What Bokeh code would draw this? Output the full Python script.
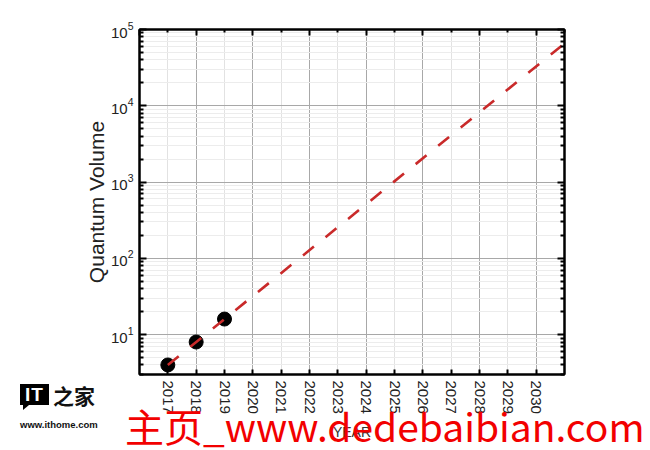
from bokeh.plotting import figure
from bokeh.layouts import column
from bokeh.models import (FixedTicker, LinearAxis, LogAxis, Range1d, Div,
                          CustomJSTickFormatter)
from bokeh.embed import file_html
from bokeh.resources import INLINE

# ---- data ----
years = [2017, 2018, 2019]
quantum_volume = [4, 8, 16]
trend_years = [2017, 2031]
trend_volume = [4, 65536]
x_tick_years = [2017, 2018, 2019, 2020, 2021, 2022, 2023, 2024,
                2025, 2026, 2027, 2028, 2029, 2030]
x_even_years = [2016, 2018, 2020, 2022, 2024, 2026, 2028, 2030]
x_odd_years = [2017, 2019, 2021, 2023, 2025, 2027, 2029, 2031]
y_decades = [1, 10, 100, 1000, 10000, 100000]
y_minor = [m * d for d in [1, 10, 100, 1000, 10000] for m in range(2, 10)]
watermark_text = "主页_www.dedebaibian.com"
logo_text = "IT"
logo_cjk = "之家"
logo_url = "www.ithome.com"

FONT = "Liberation Sans"

p = figure(width=650, height=450,
           x_range=Range1d(2016, 2031), y_range=Range1d(3, 1e5),
           y_axis_type="log",
           output_backend="svg", toolbar_location=None,
           min_border_left=139, min_border_right=86,
           min_border_top=29, min_border_bottom=76,
           x_axis_label="YEAR", y_axis_label="Quantum Volume")
p.background_fill_color = "white"
p.border_fill_color = "white"
p.outline_line_color = "black"
p.outline_line_width = 2

# grids
p.xgrid.ticker = FixedTicker(ticks=x_even_years, minor_ticks=x_odd_years)
p.xgrid.grid_line_color = "#a8a8a8"
p.xgrid.grid_line_width = 1
p.xgrid.minor_grid_line_color = "#e2e2e2"
p.ygrid.ticker = FixedTicker(ticks=y_decades, minor_ticks=y_minor)
p.ygrid.grid_line_color = "#a8a8a8"
p.ygrid.grid_line_width = 1
p.ygrid.minor_grid_line_color = "#ececec"

# bottom axis
xa = p.xaxis[0]
xa.ticker = FixedTicker(ticks=x_tick_years)
xa.major_label_orientation = "vertical"
xa.major_tick_in = 5
xa.major_tick_out = 0
xa.minor_tick_in = 0
xa.minor_tick_out = 0
xa.major_tick_line_width = 2
xa.axis_line_width = 2
xa.axis_line_color = "black"
xa.major_label_text_font = FONT
xa.major_label_text_font_size = "15px"
xa.major_label_text_color = "#222222"
xa.major_label_standoff = 6
xa.axis_label_text_font = FONT
xa.axis_label_text_font_size = "14px"
xa.axis_label_text_font_style = "normal"
xa.axis_label_text_color = "#333333"
xa.axis_label_standoff = 7

# left axis
ya = p.yaxis[0]
ya.ticker = FixedTicker(ticks=y_decades, minor_ticks=y_minor)
ya.major_tick_in = 7
ya.major_tick_out = 0
ya.minor_tick_in = 4
ya.minor_tick_out = 0
ya.major_tick_line_width = 2
ya.minor_tick_line_width = 2
ya.axis_line_width = 2
ya.axis_line_color = "black"
ya.major_label_text_font = FONT
ya.major_label_text_font_size = "15px"
ya.major_label_text_color = "#222222"
ya.major_label_standoff = 6
ya.axis_label_text_font = FONT
ya.axis_label_text_font_size = "21px"
ya.axis_label_text_font_style = "normal"
ya.axis_label_text_color = "#222222"
ya.axis_label_standoff = 0

empty = CustomJSTickFormatter(code="return ''")

# mirrored top axis
top = LinearAxis(ticker=FixedTicker(ticks=x_even_years, minor_ticks=x_odd_years),
                 formatter=empty, major_label_text_font_size="0px",
                 major_label_standoff=0, major_tick_in=6, major_tick_out=0,
                 minor_tick_in=3, minor_tick_out=0,
                 major_tick_line_width=2, minor_tick_line_width=2,
                 axis_line_width=2, axis_line_color="black")
p.add_layout(top, "above")

# mirrored right axis
right = LogAxis(ticker=FixedTicker(ticks=y_decades, minor_ticks=y_minor),
                formatter=empty, major_label_text_font_size="0px",
                major_label_standoff=0, major_tick_in=7, major_tick_out=0,
                minor_tick_in=4, minor_tick_out=0,
                major_tick_line_width=2, minor_tick_line_width=2,
                axis_line_width=2, axis_line_color="black")
p.add_layout(right, "right")

# data
p.scatter(years, quantum_volume, size=14, color="black")
p.line(trend_years, trend_volume, line_color="#c92a2a", line_width=2.6,
       line_dash="14 15")

# watermark overlay (bottom 80px of the page)
html = f"""
<div style="position:relative;width:650px;height:80px;pointer-events:none;overflow:visible;">
  <div style="position:absolute;left:125px;top:32px;width:522px;height:47px;
       white-space:nowrap;overflow:visible;
       font-family:'Noto Sans CJK SC';font-size:39px;line-height:47px;
       color:#f20000;">{watermark_text}</div>
  <div style="position:absolute;left:20px;top:14px;width:29px;height:21px;
       background:black;color:white;font-family:'Liberation Sans';
       font-weight:bold;font-size:19px;line-height:21px;text-align:center;
       letter-spacing:1px;">{logo_text}</div>
  <div style="position:absolute;left:23px;top:35px;width:0;height:0;
       border-left:6px solid black;border-bottom:5px solid transparent;"></div>
  <div style="position:absolute;left:53px;top:13px;white-space:nowrap;
       font-family:'Noto Sans CJK SC';font-weight:bold;font-size:21px;
       line-height:24px;color:#111;">{logo_cjk}</div>
  <div style="position:absolute;left:20px;top:49px;white-space:nowrap;
       font-family:'Liberation Sans';font-weight:bold;font-size:9.5px;
       line-height:12px;color:#111;">{logo_url}</div>
</div>
"""
overlay = Div(text=html, width=650, height=80, margin=(-80, 0, 0, 0),
              styles={"position": "relative", "z-index": "10",
                      "overflow": "visible"})

layout = column(p, overlay, spacing=0)

open("out.html", "w").write(file_html(layout, INLINE))
